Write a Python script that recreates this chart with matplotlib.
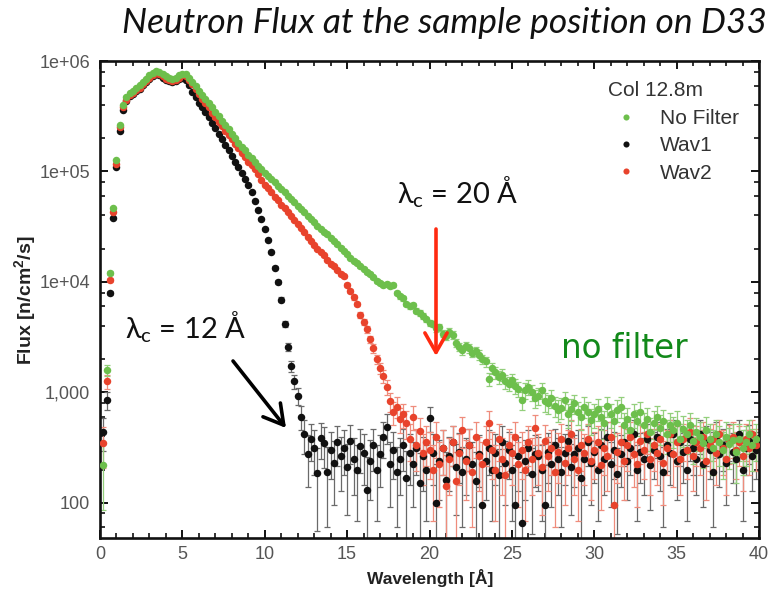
import numpy as np
import matplotlib
matplotlib.use("Agg")
import matplotlib.pyplot as plt
from matplotlib.ticker import FixedLocator, FixedFormatter, MultipleLocator, LogLocator, NullFormatter
from matplotlib.lines import Line2D

# ---------------------------------------------------------------- data
# wavelength bin centres [Å], 0.2 Å bins
wavelength = np.round(np.arange(1, 200) * 0.2, 1)

# measured flux at the sample position, stored as log10(flux [n/cm2/s])
log_flux_nofilter = [
    2.34, 3.20, 4.08, 4.67, 5.10, 5.42, 5.60, 5.67, 5.71, 5.73,
    5.76, 5.78, 5.81, 5.84, 5.87, 5.89, 5.91, 5.90, 5.88, 5.86,
    5.845, 5.84, 5.845, 5.87, 5.885, 5.88, 5.85, 5.81, 5.77, 5.73,
    5.69, 5.66, 5.62, 5.58, 5.54, 5.50, 5.46, 5.42, 5.38, 5.34,
    5.30, 5.26, 5.22, 5.19, 5.15, 5.12, 5.09, 5.05, 5.02, 4.99,
    4.96, 4.93, 4.90, 4.87, 4.84, 4.81, 4.78, 4.75, 4.72, 4.69,
    4.66, 4.63, 4.60, 4.57, 4.54, 4.51, 4.48, 4.45, 4.43, 4.40,
    4.37, 4.34, 4.31, 4.28, 4.25, 4.22, 4.19, 4.17, 4.14, 4.12,
    4.09, 4.07, 4.04, 4.01, 3.99, 3.97, 3.98, 3.96, 3.97, 3.90,
    3.87, 3.85, 3.80, 3.78, 3.79, 3.74, 3.72, 3.69, 3.66, 3.63,
    3.62, 3.58, 3.59, 3.53, 3.51, 3.55, 3.52, 3.45, 3.41, 3.38,
    3.42, 3.40, 3.36, 3.37, 3.34, 3.30, 3.28, 3.12, 3.22, 3.18,
    3.14, 3.16, 3.10, 3.08, 3.11, 3.06, 3.03, 2.93, 3.02, 3.05,
    3.00, 2.95, 2.97, 3.02, 2.92, 2.90, 2.95, 2.88, 2.84, 2.86,
    2.93, 2.80, 2.85, 2.90, 2.82, 2.78, 2.87, 2.82, 2.75, 2.80,
    2.85, 2.78, 2.72, 2.88, 2.80, 2.74, 2.84, 2.87, 2.70, 2.76,
    2.66, 2.80, 2.74, 2.82, 2.70, 2.76, 2.64, 2.72, 2.78, 2.68,
    2.74, 2.62, 2.70, 2.66, 2.72, 2.58, 2.67, 2.62, 2.70, 2.56,
    2.64, 2.60, 2.54, 2.66, 2.58, 2.50, 2.62, 2.55, 2.48, 2.60,
    2.53, 2.57, 2.46, 2.58, 2.50, 2.55, 2.62, 2.52, 2.58,
]

log_flux_wav1 = [
    2.64, 2.93, 3.90, 4.58, 5.04, 5.37, 5.56, 5.64, 5.68, 5.70,
    5.73, 5.75, 5.78, 5.81, 5.84, 5.86, 5.88, 5.87, 5.85, 5.83,
    5.82, 5.81, 5.82, 5.84, 5.85, 5.83, 5.78, 5.72, 5.67, 5.62,
    5.58, 5.54, 5.49, 5.44, 5.39, 5.34, 5.29, 5.24, 5.19, 5.14,
    5.09, 5.04, 4.99, 4.93, 4.88, 4.81, 4.73, 4.65, 4.57, 4.48,
    4.38, 4.27, 4.13, 4.00, 3.84, 3.62, 3.41, 3.24, 3.10, 2.97,
    2.78, 2.62, 2.44, 2.58, 2.50, 2.27, 2.59, 2.54, 2.28, 2.48,
    2.36, 2.55, 2.42, 2.50, 2.32, 2.56, 2.40, 2.30, 2.51, 2.45,
    2.12, 2.38, 2.52, 2.30, 2.44, 2.60, 2.69, 2.35, 2.48, 2.28,
    2.40, 2.52, 2.22, 2.45, 2.35, 2.50, 2.18, 2.42, 2.30, 2.77,
    2.45, 2.00, 2.38, 2.50, 2.21, 2.42, 2.55, 2.32, 2.46, 2.28,
    2.40, 2.52, 2.35, 2.20, 2.44, 1.98, 2.38, 2.50, 2.30, 2.45,
    2.25, 2.55, 2.36, 2.48, 2.30, 1.98, 2.42, 1.82, 2.38, 2.50,
    2.26, 2.44, 2.42, 2.30, 1.98, 2.46, 2.35, 2.52, 2.40, 2.28,
    2.45, 2.56, 2.32, 2.44, 2.50, 2.22, 2.40, 2.55, 2.36, 2.46,
    2.30, 2.52, 2.40, 2.60, 2.35, 2.48, 2.26, 2.44, 2.55, 2.38,
    2.50, 2.62, 2.30, 2.46, 2.40, 2.58, 2.34, 2.48, 2.60, 2.42,
    2.28, 2.52, 2.45, 2.62, 2.38, 2.55, 2.46, 2.30, 2.58, 2.50,
    2.40, 2.62, 2.35, 2.55, 2.48, 2.28, 2.60, 2.44, 2.52, 2.36,
    2.58, 2.46, 2.40, 2.62, 2.30, 2.50, 2.56, 2.42, 2.48,
]

log_flux_wav2 = [
    2.54, 3.10, 4.02, 4.63, 5.07, 5.40, 5.58, 5.65, 5.69, 5.71,
    5.74, 5.76, 5.79, 5.82, 5.85, 5.87, 5.89, 5.88, 5.86, 5.84,
    5.83, 5.82, 5.83, 5.85, 5.87, 5.86, 5.83, 5.79, 5.75, 5.70,
    5.66, 5.62, 5.58, 5.53, 5.49, 5.45, 5.41, 5.37, 5.33, 5.29,
    5.25, 5.21, 5.17, 5.13, 5.09, 5.06, 5.02, 4.98, 4.92, 4.88,
    4.85, 4.81, 4.77, 4.74, 4.70, 4.67, 4.63, 4.60, 4.56, 4.52,
    4.49, 4.45, 4.41, 4.37, 4.33, 4.30, 4.27, 4.24, 4.20, 4.16,
    4.14, 4.11, 4.07, 4.05, 3.97, 3.92, 3.86, 3.80, 3.70, 3.64,
    3.57, 3.48, 3.40, 3.30, 3.22, 3.15, 3.05, 2.92, 2.82, 2.87,
    2.76, 2.80, 2.72, 2.58, 2.78, 2.52, 2.65, 2.45, 2.55, 2.48,
    2.30, 2.60, 2.35, 2.50, 2.15, 2.40, 2.55, 2.20, 2.45, 2.66,
    2.38, 2.52, 2.28, 2.60, 2.42, 2.35, 2.55, 2.72, 2.48, 2.30,
    2.58, 2.40, 2.25, 2.52, 2.45, 2.60, 2.35, 2.48, 2.30, 2.55,
    2.40, 2.68, 2.45, 2.32, 2.56, 2.42, 2.50, 2.28, 2.46, 2.58,
    2.36, 2.50, 2.62, 2.40, 2.30, 2.52, 2.45, 2.58, 2.38, 2.48,
    2.55, 2.34, 2.50, 2.42, 2.60, 1.98, 2.46, 2.55, 2.38, 2.52,
    2.60, 2.44, 2.35, 2.56, 2.48, 2.62, 2.40, 2.52, 2.45, 2.58,
    2.36, 2.50, 2.62, 2.44, 2.55, 2.40, 2.58, 2.48, 2.64, 2.42,
    2.55, 2.50, 2.60, 2.38, 2.52, 2.58, 2.45, 2.62, 2.50, 2.40,
    2.56, 2.60, 2.48, 2.55, 2.42, 2.58, 2.50, 2.62, 2.52,
]

series_labels = ["No Filter", "Wav1", "Wav2"]
legend_title = "Col 12.8m"

# uncertainty model: detector background plus counting statistics
BKG_SIGMA = 120.0
COUNT_GAIN = 14.0

x_major = [0, 5, 10, 15, 20, 25, 30, 35, 40]
y_major = [1e2, 1e3, 1e4, 1e5, 1e6]
y_major_labels = ["100", "1,000", "1e+04", "1e+05", "1e+06"]

# ---------------------------------------------------------------- style
W, H = 776, 597
plt.rcParams["font.family"] = ["Liberation Sans", "DejaVu Sans"]

colors = {"No Filter": "#6dbf4c", "Wav1": "#111111", "Wav2": "#e8432c"}
ecolors = {"No Filter": "#93cf7c", "Wav1": "#6a6a6a", "Wav2": "#ef8c7c"}

fig = plt.figure(figsize=(W / 100, H / 100), dpi=100)
ax = fig.add_axes([100 / W, 1 - 538 / H, 659 / W, 477 / H])
ax.set_yscale("log")

data = {
    "No Filter": log_flux_nofilter,
    "Wav1": log_flux_wav1,
    "Wav2": log_flux_wav2,
}
draw_order = ["Wav1", "Wav2", "No Filter"]
for name in draw_order:
    flux = 10.0 ** np.asarray(data[name])
    sigma = np.sqrt(BKG_SIGMA ** 2 + COUNT_GAIN * flux)
    lower = np.minimum(sigma, flux * 0.999)
    ax.errorbar(wavelength, flux, yerr=[lower, sigma], fmt="none",
                ecolor=ecolors[name], elinewidth=0.9, capsize=2.3,
                capthick=0.9, zorder=2)
    ax.plot(wavelength, flux, "o", ms=5.4, color=colors[name],
            mec="none", zorder=3)

ax.set_xlim(0, 40)
ax.set_ylim(48, 1e6)

ax.xaxis.set_major_locator(FixedLocator(x_major))
ax.xaxis.set_minor_locator(MultipleLocator(1))
ax.yaxis.set_major_locator(FixedLocator(y_major))
ax.yaxis.set_major_formatter(FixedFormatter(y_major_labels))
ax.yaxis.set_minor_locator(LogLocator(base=10, subs=(2, 4, 6, 8)))
ax.yaxis.set_minor_formatter(NullFormatter())

for sp in ax.spines.values():
    sp.set_linewidth(1.9)
    sp.set_color("#111111")
ax.tick_params(which="both", direction="in", top=True, right=True,
               color="#111111", labelcolor="#555555", labelsize=13)
ax.tick_params(which="major", length=6, width=1.4)
ax.tick_params(which="minor", length=3.5, width=1.2)
ax.tick_params(axis="x", pad=6)
ax.tick_params(axis="y", pad=7)

fig.text(430 / W, 1 - 578 / H, "Wavelength [Å]", ha="center", va="center",
         fontsize=12.5, fontweight="bold", color="#222222")
fig.text(26 / W, 1 - 300 / H, "Flux [n/cm$^\\mathregular{2}$/s]", ha="center",
         va="center", rotation=90, fontsize=14, fontweight="bold",
         color="#222222")

# legend: title as its own line, entries below it
fig.text(608 / W, 1 - 91 / H, legend_title, ha="left", va="center",
         fontsize=15, color="#333333")
handles = [Line2D([], [], ls="none", marker="o", ms=4.4, mec="none",
                  color=colors[n]) for n in series_labels]
leg = ax.legend(handles, series_labels,
                loc="upper left", bbox_to_anchor=(608 / W, 1 - 109 / H),
                bbox_transform=fig.transFigure, frameon=False,
                fontsize=15, handlelength=1.75,
                handletextpad=0.75, labelspacing=0.4, borderpad=0,
                borderaxespad=0, numpoints=1)
for t in leg.get_texts():
    t.set_color("#333333")

# figure title and annotations
fig.text(444 / W, 1 - 23 / H, "Neutron Flux at the sample position on D33",
         ha="center", va="center", fontsize=25.5, style="italic",
         family=["Lato", "DejaVu Sans"], color="#111111")

fig.text(458 / W, 1 - 192 / H, "λ$_\\mathregular{c}$ = 20 Å", ha="center",
         va="center", fontsize=21, family=["Lato", "DejaVu Sans"],
         color="#111111")
fig.text(186 / W, 1 - 327 / H, "λ$_\\mathregular{c}$ = 12 Å", ha="center",
         va="center", fontsize=21, family=["Lato", "DejaVu Sans"],
         color="#111111")
fig.text(624 / W, 1 - 348 / H, "no filter", ha="center", va="center",
         fontsize=23.5, family="DejaVu Sans", color="#12891a")

ax.annotate("", xy=(436, H - 356), xycoords="figure pixels",
            xytext=(436, H - 229), textcoords="figure pixels",
            arrowprops=dict(arrowstyle="->,head_length=0.7,head_width=0.4",
                            mutation_scale=20, lw=2.6, color="#ff2a10",
                            shrinkA=0, shrinkB=0))
ax.annotate("", xy=(286, H - 428), xycoords="figure pixels",
            xytext=(233, H - 361), textcoords="figure pixels",
            arrowprops=dict(arrowstyle="->,head_length=0.7,head_width=0.4",
                            mutation_scale=20, lw=2.6, color="#000000",
                            shrinkA=0, shrinkB=0))

fig.savefig("out.png", dpi=100)
